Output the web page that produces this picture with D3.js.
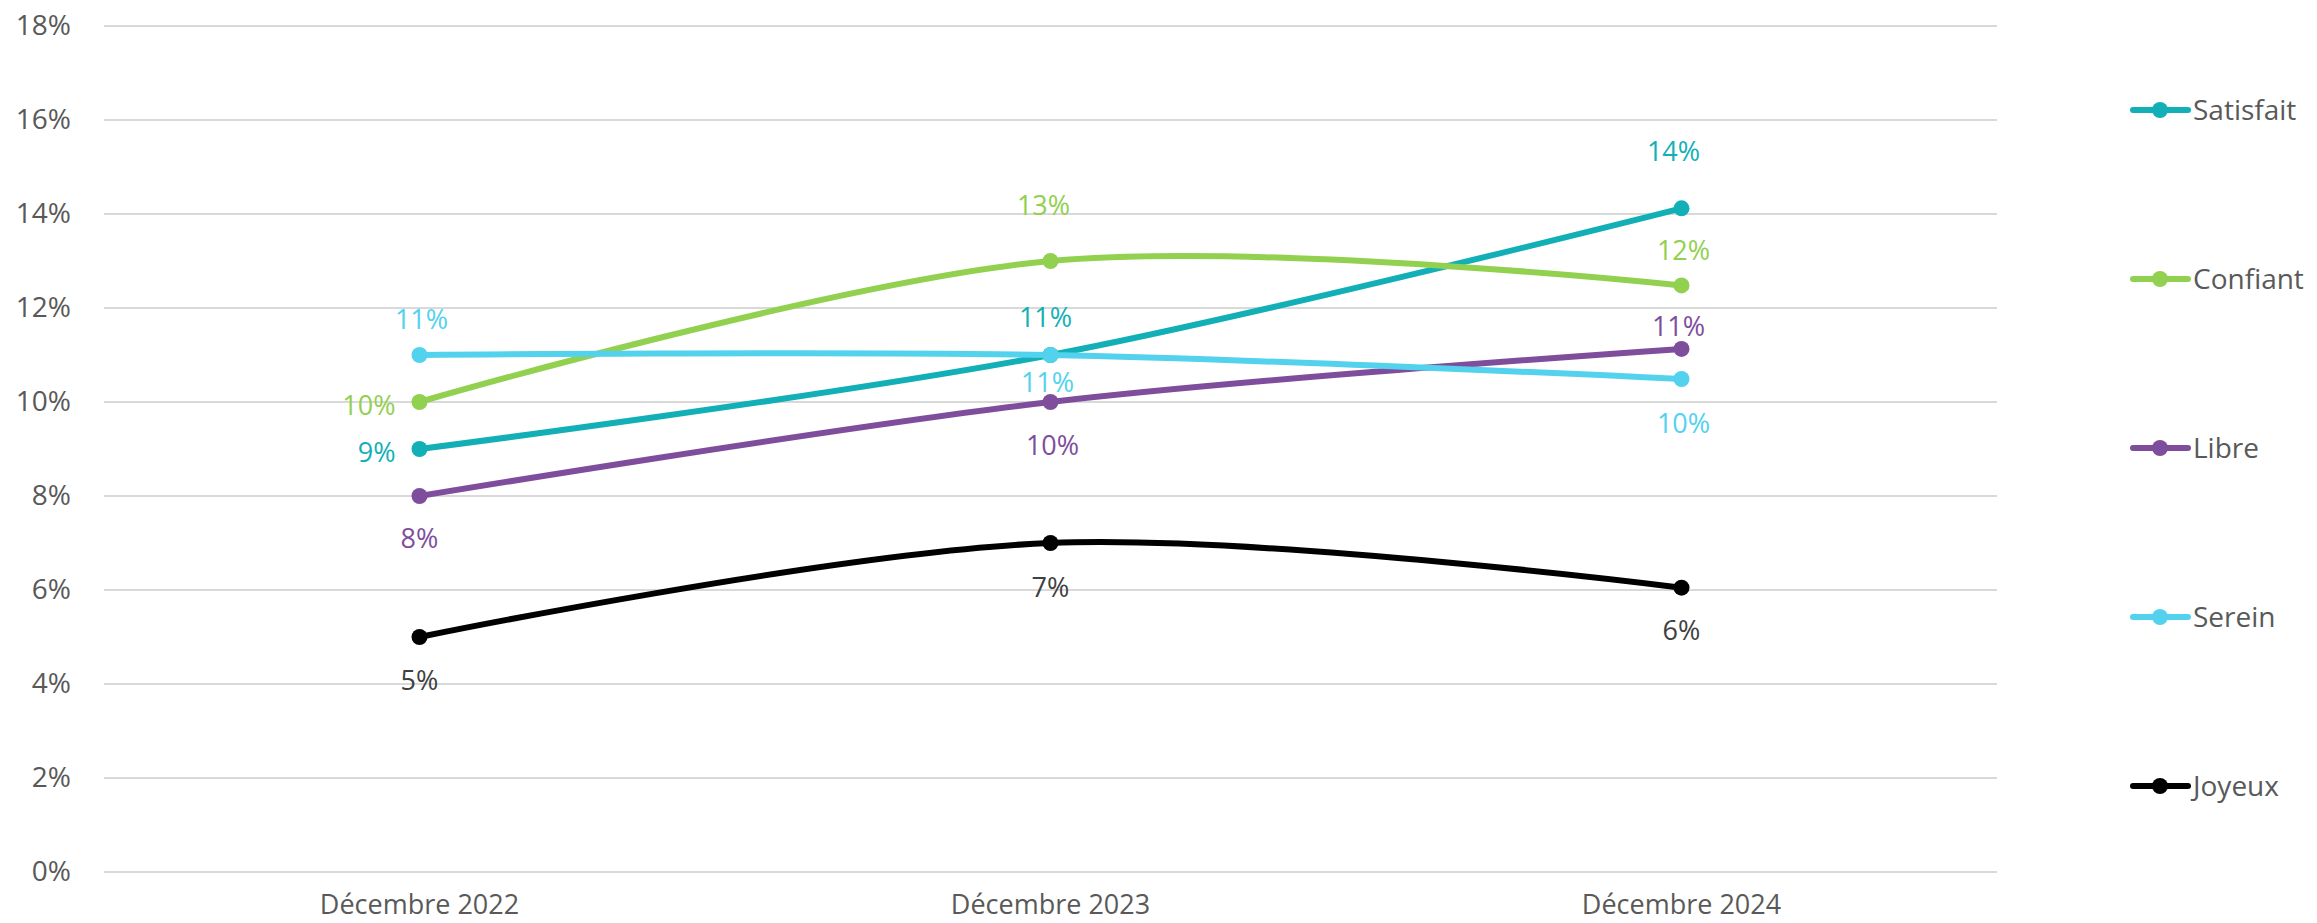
<!DOCTYPE html>
<html>
<head>
<meta charset="utf-8">
<script src="https://cdn.jsdelivr.net/npm/d3@7"></script>
<style>
  body { margin: 0; background: #fff; }
  svg { display: block; font-family: "Open Sans", "Segoe UI", sans-serif; }
</style>
</head>
<body>
<svg id="chart" width="2317" height="923"></svg>
<script>
// categories and series (values in %)
const periods = ["Décembre 2022", "Décembre 2023", "Décembre 2024"];
const seriesNames = ["Satisfait", "Confiant", "Libre", "Serein", "Joyeux"];
const satisfait = [9.0, 11.0, 14.12];
const confiant = [10.0, 13.0, 12.48];
const libre = [8.0, 10.0, 11.13];
const serein = [11.0, 11.0, 10.49];
const joyeux = [5.0, 7.0, 6.05];
const yTicks = [0, 2, 4, 6, 8, 10, 12, 14, 16, 18];

const colors = {
    Satisfait: "#12B0B6",
    Confiant: "#92D050",
    Libre: "#7E4E9D",
    Serein: "#53D2EE",
    Joyeux: "#000000"
};
const labelColors = { ...colors, Joyeux: "#404040" };

// where each data label sits relative to its point (hand placed in the original)
const labelOffsets = {
    Satisfait: [["end", -24, 3], ["middle", -5, -38], ["middle", -8, -57]],
    Confiant: [["end", -24, 3], ["middle", -7, -56], ["middle", 2, -35]],
    Libre: [["middle", 0, 42], ["middle", 2, 43], ["middle", -3, -23]],
    Serein: [["middle", 2, -36], ["middle", -3, 27], ["middle", 2, 44]],
    Joyeux: [["middle", 0, 43], ["middle", 0, 44], ["middle", 0, 43]]
};

const seriesValues = [satisfait, confiant, libre, serein, joyeux];
const data = seriesNames.map((name, i) => ({
    name: name,
    values: seriesValues[i].map((v, j) => ({ period: periods[j], value: v }))
}));

const svg = d3.select("#chart");
const plotLeft = 104, plotRight = 1997, plotTop = 26, plotBottom = 872;

const x = d3.scaleBand().domain(periods).range([plotLeft, plotRight]);
const y = d3.scaleLinear().domain([0, 18]).range([plotBottom, plotTop]);
const cx = d => x(d.period) + x.bandwidth() / 2;

// gridlines
svg.append("g")
    .selectAll("line")
    .data(yTicks)
    .join("line")
    .attr("x1", plotLeft)
    .attr("x2", plotRight)
    .attr("y1", d => y(d))
    .attr("y2", d => y(d))
    .attr("stroke", "#D9D9D9")
    .attr("stroke-width", 2);

// y axis labels
const yAxis = svg.append("g")
    .attr("transform", `translate(${plotLeft},0)`)
    .call(d3.axisLeft(y).tickValues(yTicks).tickFormat(d => d + "%").tickSize(0).tickPadding(33));
yAxis.select(".domain").remove();
yAxis.selectAll("text")
    .attr("fill", "#595959")
    .style("font-size", "28px")
    .style("font-family", "'Open Sans', sans-serif");

// x axis labels
const xAxis = svg.append("g")
    .attr("transform", `translate(0,${plotBottom})`)
    .call(d3.axisBottom(x).tickSize(0).tickPadding(0));
xAxis.select(".domain").remove();
xAxis.selectAll("text")
    .attr("y", 42)
    .attr("dy", 0)
    .attr("fill", "#595959")
    .style("font-size", "27px")
    .style("font-family", "'Open Sans', sans-serif");

// lines
const line = d3.line()
    .x(cx)
    .y(d => y(d.value))
    .curve(d3.curveCardinal.tension(0));

const seriesG = svg.append("g")
    .selectAll("g")
    .data(data)
    .join("g");

seriesG.append("path")
    .attr("d", d => line(d.values))
    .attr("fill", "none")
    .attr("stroke", d => colors[d.name])
    .attr("stroke-width", 6)
    .attr("stroke-linecap", "round");

seriesG.selectAll("circle")
    .data(d => d.values.map(v => ({ ...v, name: d.name })))
    .join("circle")
    .attr("cx", cx)
    .attr("cy", d => y(d.value))
    .attr("r", 8)
    .attr("fill", d => colors[d.name]);

seriesG.selectAll("text")
    .data(d => d.values.map((v, j) => ({ ...v, name: d.name, pos: labelOffsets[d.name][j] })))
    .join("text")
    .attr("x", d => cx(d) + d.pos[1])
    .attr("y", d => y(d.value) + d.pos[2])
    .attr("dy", "0.36em")
    .attr("text-anchor", d => d.pos[0])
    .attr("fill", d => labelColors[d.name])
    .style("font-size", "27px")
    .text(d => Math.round(d.value) + "%");

// legend
const ly = d3.scalePoint().domain(seriesNames).range([110, 786]);
const legend = svg.append("g")
    .selectAll("g")
    .data(seriesNames)
    .join("g")
    .attr("transform", d => `translate(2160,${ly(d)})`);

legend.append("line")
    .attr("x1", -27)
    .attr("x2", 28)
    .attr("stroke", d => colors[d])
    .attr("stroke-width", 6)
    .attr("stroke-linecap", "round");
legend.append("circle")
    .attr("r", 8)
    .attr("fill", d => colors[d]);
legend.append("text")
    .attr("x", 33)
    .attr("dy", "0.36em")
    .attr("fill", "#595959")
    .style("font-size", "28px")
    .text(d => d);
</script>
</body>
</html>
